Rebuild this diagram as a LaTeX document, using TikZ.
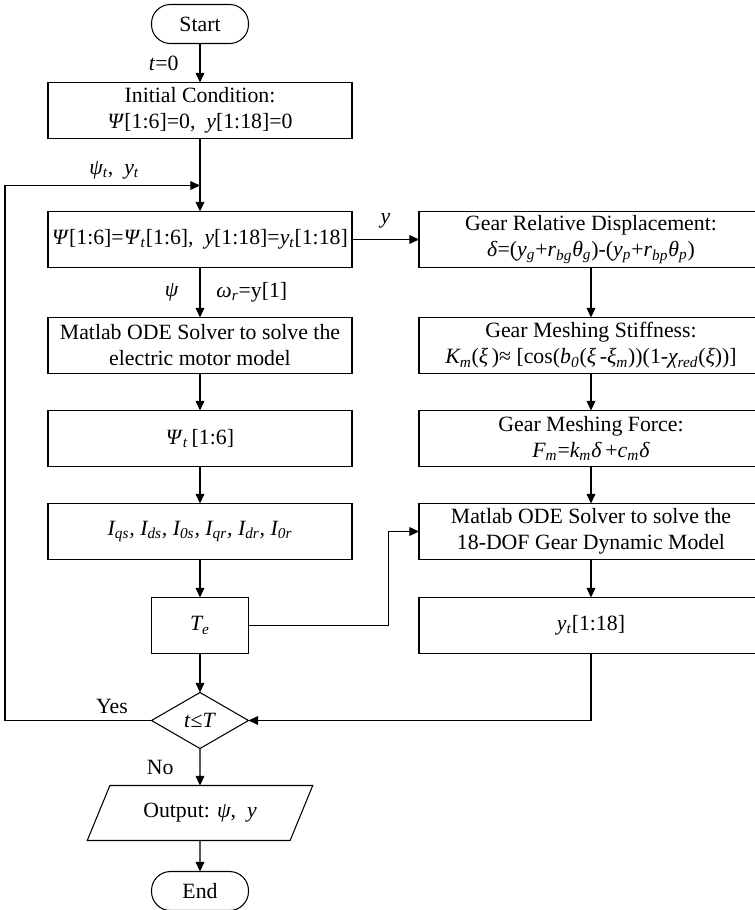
\documentclass[tikz,border=0pt]{standalone}
\usepackage{fontspec}
\setmainfont{Liberation Serif}
\usepackage{tikz}
\usetikzlibrary{shapes.geometric,arrows.meta,positioning}

\newcommand{\sbs}[1]{\textsubscript{\itshape #1}}

\begin{document}
\begin{tikzpicture}[
    node distance=0.74cm,
    font=\fontsize{12.4}{14.8}\selectfont,
    terminal/.style={rectangle, draw, rounded corners=0.38cm, minimum width=1.94cm, minimum height=0.78cm, outer sep=0pt, line width=0.6pt},
    process/.style={rectangle, draw, minimum width=6.08cm, minimum height=1.12cm, align=center, inner sep=1pt, outer sep=0pt, line width=0.6pt},
    wide/.style={process, minimum width=6.88cm},
    small/.style={process, minimum width=1.94cm},
    decision/.style={diamond, draw, aspect=1.73, minimum width=1.94cm, minimum height=1.12cm, inner sep=0pt, outer sep=0pt, line width=0.6pt},
    io/.style={trapezium, draw, trapezium left angle=63, trapezium right angle=117, trapezium stretches=true, minimum width=4.52cm, minimum height=1.1cm, outer sep=0pt, line width=0.6pt},
    line/.style={-{Triangle[length=5.5pt, width=5pt]}, line width=0.6pt}
]
    \useasboundingbox (0,0) rectangle (15.1,-18.2);

    % Motor side
    \node[terminal] (start) at (4,-0.48) {Start};
    \node[process, below=0.78cm of start] (init) {Initial Condition:\\\textit{Ψ}[1:6]=0,\ \ \textit{y}[1:18]=0};
    \node[process, below=1.46cm of init] (assign) {\textit{Ψ}[1:6]=\textit{Ψ}\sbs{t}[1:6],\ \ \textit{y}[1:18]=\textit{y}\sbs{t}[1:18]};
    \node[process, below=1.0cm of assign] (motor) {Matlab ODE Solver to solve the\\electric motor model};
    \node[process, below=of motor] (psit) {\textit{Ψ}\sbs{t}\,[1:6]};
    \node[process, below=of psit] (curr) {\textit{I\sbs{qs}, I\sbs{ds}, I\sbs{0s}, I\sbs{qr}, I\sbs{dr}, I\sbs{0r}}};
    \node[small, below=0.76cm of curr] (te) {\textit{T\sbs{e}}};
    \node[decision, below=0.78cm of te] (dec) {\textit{t}≤\textit{T}};
    \node[io, below=of dec] (out) {Output: \textit{ψ},\ \ \textit{y}};
    \node[terminal, below=0.62cm of out] (end) {End};

    % Gear side
    \node[wide, right=1.34cm of assign] (rel) {Gear Relative Displacement:\\\textit{δ}=(\textit{y\sbs{g}}+\textit{r\sbs{bg}θ\sbs{g}})-(\textit{y\sbs{p}}+\textit{r\sbs{bp}θ\sbs{p}})};
    \node[wide, below=1.0cm of rel] (stiff) {Gear Meshing Stiffness:\\\textit{K\sbs{m}}(\textit{ξ}\,)≈ [cos(\textit{b\sbs{0}}(\textit{ξ}\,-\textit{ξ\sbs{m}}))(1-\textit{χ\sbs{red}}(\textit{ξ}))]};
    \node[wide, below=of stiff] (force) {Gear Meshing Force:\\\textit{F\sbs{m}}=\textit{k\sbs{m}δ}\,+\textit{c\sbs{m}δ}};
    \node[wide, below=of force] (gode) {Matlab ODE Solver to solve the\\18-DOF Gear Dynamic Model};
    \node[wide, below=0.76cm of gode] (yt) {\textit{y\sbs{t}}[1:18]};

    \coordinate[above=0.52cm of assign] (merge);
    \coordinate (back) at (0.1,0);

    % Main flow
    \draw[line] (start) -- (init) node[midway, left=0.3cm] {\textit{t}=0};
    \draw[line] (init) -- (assign);
    \draw[line] (assign) -- (motor)
        node[midway, left=0.3cm] {\textit{ψ}}
        node[midway, right=0.2cm] {\textit{ω\sbs{r}}=y[1]};
    \draw[line] (motor) -- (psit);
    \draw[line] (psit) -- (curr);
    \draw[line] (curr) -- (te);
    \draw[line] (te) -- (dec);
    \draw[line] (dec) -- (out) node[midway, left=0.4cm] {No};
    \draw[line] (out) -- (end);

    % Loop back
    \draw[line] (dec.west) -- node[pos=0.27, above] {Yes} (dec.west -| back)
        |- (merge) node[pos=0.78, above] {\textit{ψ\sbs{t}},\ \ \textit{y\sbs{t}}};

    % Gear chain
    \draw[line] (assign) -- (rel) node[midway, above=3pt] {\textit{y}};
    \draw[line] (rel) -- (stiff);
    \draw[line] (stiff) -- (force);
    \draw[line] (force) -- (gode);
    \draw[line] (gode) -- (yt);
    \draw[line] (te.east) -- ++(2.8cm,0) |- (gode.west);
    \draw[line] (yt.south) |- (dec.east);
\end{tikzpicture}
\end{document}
